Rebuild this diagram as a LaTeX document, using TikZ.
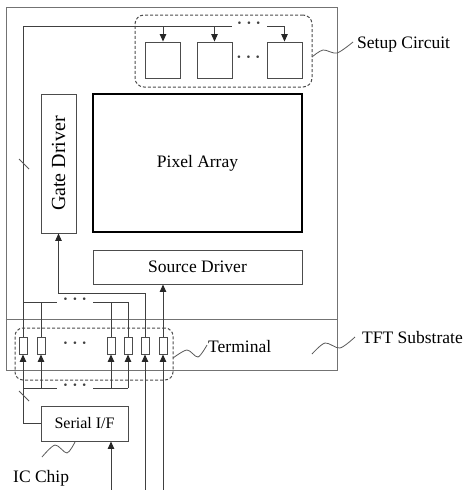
\documentclass[tikz,border=0pt]{standalone}
\usepackage{fontspec}
\setmainfont{Liberation Serif}
\usetikzlibrary{arrows.meta}
\begin{document}
\begin{tikzpicture}[x=1pt,y=-1pt,
  wire/.style={draw=black!75,line width=0.9pt},
  arr/.style={wire,-{Triangle[length=7.5pt,width=6.5pt,color=black!85]}},
  box/.style={draw=black!70,line width=0.9pt,inner sep=0pt,font=\fontsize{17.5}{20}\selectfont},
  pin/.style={box,minimum width=8pt,minimum height=17pt},
  sbox/.style={box,minimum width=35pt,minimum height=36pt},
  grp/.style={draw=black!70,line width=1pt,dash pattern=on 3pt off 2pt,rounded corners=9pt,inner sep=0pt},
  lead/.style={draw=black!65,line width=0.8pt},
  lbl/.style={font=\fontsize{17.5}{20}\selectfont,inner sep=0pt,anchor=base west},
  dots/.style={font=\fontsize{16}{16}\selectfont\bfseries,inner sep=0pt,text=black!75},
  tick/.style={draw=black!65,line width=0.8pt}]
\useasboundingbox (0,0) rectangle (465,490);

% TFT substrate
\node[box,draw=black!55,minimum width=331pt,minimum height=363pt] (tft) at (171.5,188.5) {};
\draw[box,draw=black!55] (tft.west |- 0,319) -- (tft.east |- 0,319);

% setup circuit
\node[grp,minimum width=177pt,minimum height=72pt] (setup) at (223.5,51) {};
\node[sbox] (s1) at (163,60) {};
\node[sbox] (s2) at (214.5,60) {};
\node[sbox] (s3) at (284.5,60) {};
\node[dots] (d1) at (248.5,59) {· · ·};
\node[dots] (d2) at (249,25) {· · ·};

% main blocks
\node[box,draw=black,line width=1.2pt,minimum width=209pt,minimum height=138pt] (pix) at (197.5,163) {Pixel Array};
\node[box,minimum width=35pt,minimum height=139pt] (gd) at (58.5,163.5) {\rotatebox{90}{\fontsize{20}{22}\selectfont Gate Driver}};
\node[box,minimum width=209pt,minimum height=34pt] (sd) at (197.5,267) {Source Driver};

% terminals
\foreach \i/\x in {1/23,2/41,3/111,4/128,5/145,6/163} \node[pin] (p\i) at (\x,345.5) {};
\node[dots] (d3) at (75,345) {· · ·};
\node[grp,rounded corners=8pt,minimum width=158pt,minimum height=52pt] (term) at (94,354) {};

% serial I/F
\node[box,minimum width=87pt,minimum height=35pt,font=\fontsize{16}{18}\selectfont] (sif) at (84.5,423.5) {Serial I/F};

% top wire to setup circuit
\coordinate (tl) at (23,26);
\coordinate (ta) at (232,26);
\coordinate (tb) at (267,26);
\draw[wire] (p1.north) -- (tl) -- (ta);
\draw[arr] (s1.north |- tl) -- (s1.north);
\draw[arr] (s2.north |- tl) -- (s2.north);
\draw[arr] (tb) -- (s3.north |- tl) -- (s3.north);

% bus above terminals
\coordinate (ua) at (57,302);
\coordinate (ub) at (93,302);
\node[dots] (d4) at (75,301) {· · ·};
\draw[wire] (p1.north |- ua) -- (ua);
\draw[wire] (ub) -- (p4.north |- ub);
\draw[wire] (p2.north |- ua) -- (p2.north);
\draw[wire] (p3.north |- ua) -- (p3.north);
\draw[wire] (p4.north |- ua) -- (p4.north);
\coordinate (gk) at (58.5,293);
\draw[arr] (p5.north) |- (gk) -- (gd.south);
\draw[arr] (p6.north) -- (p6.north |- sd.south);

% bus below terminals
\coordinate (la) at (57,388);
\coordinate (lb) at (93,388);
\node[dots] (d5) at (75,387) {· · ·};
\draw[wire] (p1.south |- la) -- (la);
\draw[wire] (lb) -- (p4.south |- lb);
\draw[arr] (p2.south |- la) -- (p2.south);
\draw[arr] (p3.south |- la) -- (p3.south);
\draw[arr] (p4.south |- la) -- (p4.south);
\draw[arr] (sif.west) -| (p1.south);

% external inputs
\coordinate (b1) at (111,490);
\coordinate (b2) at (145,490);
\coordinate (b3) at (163,490);
\draw[arr] (b1) -- (b1 |- sif.south);
\draw[arr] (b2) -- (p5.south);
\draw[arr] (b3) -- (p6.south);

% bus ticks
\draw[tick] (19,159) -- (29,169);
\draw[tick] (19,391) -- (29,401);

% labels with leaders
\draw[lead] plot[smooth] coordinates {(312,57) (323,50) (337,53) (353,42)};
\node[lbl] (lsetup) at (357,48) {Setup Circuit};
\draw[lead] plot[smooth] coordinates {(173,358) (187,350) (198,357) (207,345)};
\node[lbl] (lterm) at (208,352) {Terminal};
\draw[lead] plot[smooth] coordinates {(312,354) (325,343) (340,348) (355,337)};
\node[lbl] (ltft) at (362,343) {TFT Substrate};
\draw[lead] plot[smooth] coordinates {(75,442) (67,453) (55,445) (42,457)};
\node[lbl] (lic) at (13,482) {IC Chip};
\end{tikzpicture}
\end{document}
